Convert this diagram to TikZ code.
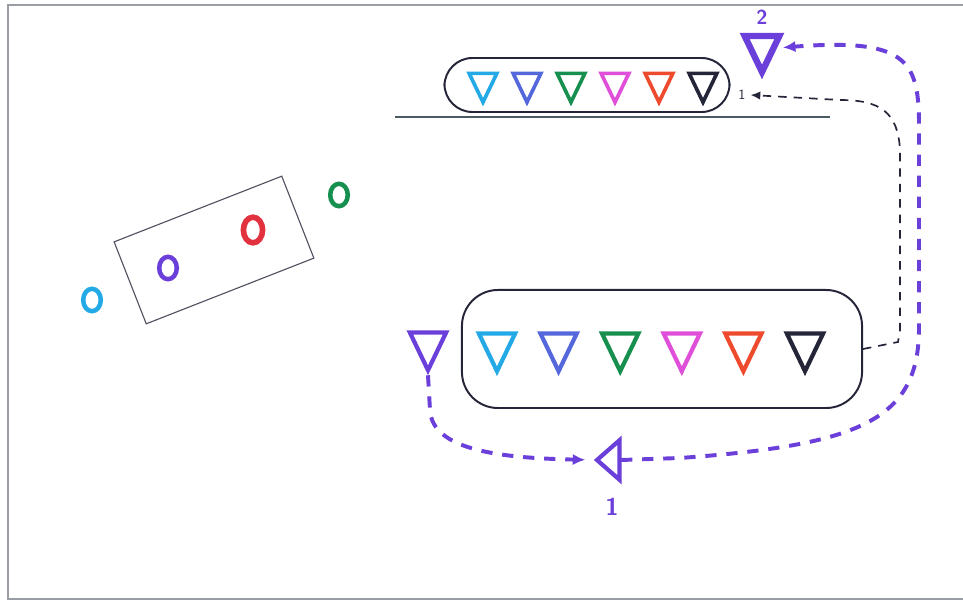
\documentclass[tikz,border=0pt]{standalone}
\usepackage{xcolor}
\definecolor{skyc}{HTML}{23A9E6}
\definecolor{bluec}{HTML}{5468DC}
\definecolor{greenc}{HTML}{17904F}
\definecolor{pinkc}{HTML}{E04FD9}
\definecolor{orangec}{HTML}{EE4A2E}
\definecolor{inkc}{HTML}{25253A}
\definecolor{trip}{HTML}{6B3FD9}
\definecolor{redc}{HTML}{E2323F}
\definecolor{frame}{HTML}{9A9EA4}
\definecolor{shelfc}{HTML}{4A5A60}
\usetikzlibrary{arrows.meta,positioning,shapes.geometric}
\tikzset{
  tri/.style    ={regular polygon,regular polygon sides=3,shape border rotate=180,
                  draw=#1,line width=2.6pt,minimum size=8mm,inner sep=0pt,yscale=1.2},
  bigtri/.style ={tri=#1,minimum size=10.5mm,line width=3pt},
  ring/.style   ={ellipse,draw=#1,line width=3.2pt,minimum width=4.4mm,
                  minimum height=5.6mm,inner sep=0pt},
  pod/.style    ={draw=inkc,line width=1.4pt,rounded corners=7mm,inner sep=0pt},
  hop/.style    ={draw=trip,line width=2.8pt,dash pattern=on 8pt off 7pt,
                  -{Latex[length=9pt,width=8pt]}},
  back/.style   ={draw=inkc,line width=1.2pt,dash pattern=on 6pt off 5pt,
                  -{Latex[length=7pt,width=6pt]}},
  num/.style    ={font=\sffamily\bfseries,text=trip,inner sep=1pt},
}
\begin{document}
\begin{tikzpicture}[x=0.025cm,y=-0.025cm]
\useasboundingbox (0,0) rectangle (963,603);
% paper edge
\draw[frame,line width=1pt] (963,5) -- (8,5) -- (8,599) -- (963,599);
% slanted card with rings
\node[draw=inkc!80,line width=0.8pt,minimum width=4.5cm,minimum height=2.2cm,
      rotate=21.4] (card) at (214,250) {};
\node[ring=skyc] (r1) at (92,300) {};
\node[ring=trip] (r2) at (168,268) {};
\node[ring=redc,line width=4pt,minimum width=4.8mm,minimum height=6.4mm] (r3) at (253,230) {};
\node[ring=greenc] (r4) at (339,195) {};
% upper row on the shelf
\node[pod,minimum width=7.125cm,minimum height=1.35cm] (top) at (587,85) {};
\draw[shelfc,line width=1pt] (395,117) -- (830,117);
\foreach \c [count=\i] in {skyc,bluec,greenc,pinkc,orangec,inkc}
  \node[tri=\c] (t\i) at ({483+44*(\i-1)},83) {};
\node[font=\sffamily\normalsize,text=inkc] (one) at (742,95) {1};
% lower row
\node[pod,minimum width=10cm,minimum height=2.95cm,rounded corners=9mm] (low) at (662,349) {};
\foreach \c [count=\i] in {skyc,bluec,greenc,pinkc,orangec,inkc}
  \node[bigtri=\c] (b\i) at ({497+61.6*(\i-1)},346) {};
\node[bigtri=trip] (p) at (428,345) {};
% stops
\node[tri=trip,shape border rotate=90,minimum size=10mm,line width=3pt,
      xscale=0.75,yscale=0.95] (s1) at (612,460) {};
\node[num,font=\sffamily\bfseries\LARGE,below=5mm of s1] (n1) {1};
\node[tri=trip,minimum size=10mm,line width=4.5pt] (s2) at (762,48) {};
\node[num,font=\sffamily\bfseries\Large,above=1.5mm of s2] (n2) {2};
% paths
\draw[back] (low.east) -- (898,342) -- (900,330) -- (900,150)
  .. controls (898,112) and (880,100) .. (840,100) -- (one.east);
\draw[hop,shorten >=6pt] (p.corner 1) -- (430,410)
  .. controls (432,450) and (500,458) .. (s1.west);
\draw[hop,shorten >=4pt] (s1.east) -- (680,458)
  .. controls (860,445) and (918,420) .. (919,330) -- (919,120)
  .. controls (918,60) and (905,38) .. (s2.east);
\end{tikzpicture}
\end{document}
